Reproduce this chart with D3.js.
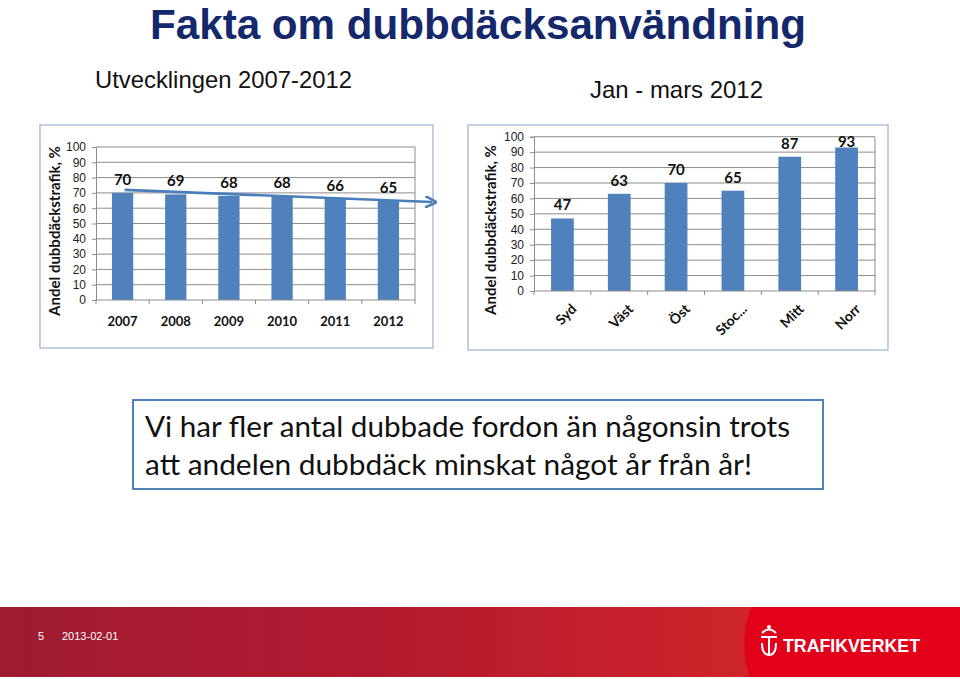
<!DOCTYPE html>
<html><head><meta charset="utf-8">
<script src="https://cdn.jsdelivr.net/npm/d3@7"></script>
<style>body{margin:0;background:#fff;}svg{display:block;}</style>
</head><body>
<script>
const years = ["2007","2008","2009","2010","2011","2012"];
const yearValues = [70,69,68,68,66,65];
const regions = ["Syd","Väst","Öst","Stoc...","Mitt","Norr"];
const regionValues = [47,63,70,65,87,93];
const yTicks = [0,10,20,30,40,50,60,70,80,90,100];

const W=960,H=679;
const svg=d3.select("body").append("svg").attr("width",W).attr("height",H);
const defs=svg.append("defs");
const BAR="#4f81bd", GRID="#8c8c8c", FRAME="#9bb0cf";
const calib="Lato, 'Open Sans', sans-serif";
const arial="'Liberation Sans', Arial, sans-serif";

// Title
svg.append("text").attr("x",150).attr("y",39)
 .attr("font-family",arial).attr("font-weight","bold").attr("font-size",42)
 .attr("fill","#14286b").attr("textLength",656).attr("lengthAdjust","spacingAndGlyphs").text("Fakta om dubbdäcksanvändning");
svg.append("text").attr("x",95).attr("y",88).attr("font-family",arial)
 .attr("font-size",24).attr("fill","#111").attr("textLength",257).attr("lengthAdjust","spacingAndGlyphs").text("Utvecklingen 2007-2012");
svg.append("text").attr("x",590).attr("y",98).attr("font-family",arial)
 .attr("font-size",24).attr("fill","#111").attr("textLength",173).attr("lengthAdjust","spacingAndGlyphs").text("Jan - mars 2012");

function chart(opt){
  const g=svg.append("g");
  g.append("rect").attr("x",opt.frame[0]).attr("y",opt.frame[1]).attr("width",opt.frame[2]-opt.frame[0])
   .attr("height",opt.frame[3]-opt.frame[1]).attr("fill","#fff").attr("stroke",FRAME).attr("stroke-width",1.2);
  const xb=d3.scaleBand().domain(opt.cats).range([opt.x0,opt.x1]);
  const y=d3.scaleLinear().domain([0,100]).range([opt.y0,opt.y1]);
  // grid
  g.selectAll(".gl").data(yTicks.filter(t=>t>0)).join("line")
   .attr("x1",opt.x0).attr("x2",opt.x1).attr("y1",d=>y(d)).attr("y2",d=>y(d))
   .attr("stroke",GRID).attr("stroke-width",1);
  g.append("line").attr("x1",opt.x1).attr("x2",opt.x1).attr("y1",opt.y0).attr("y2",opt.y1).attr("stroke",GRID);
  // y axis
  const ya=g.append("g").attr("transform",`translate(${opt.x0},0)`)
   .call(d3.axisLeft(y).tickValues(yTicks).tickSize(4).tickPadding(6));
  ya.select(".domain").attr("stroke",GRID);
  ya.selectAll(".tick line").attr("stroke",GRID);
  ya.selectAll(".tick text").attr("font-family",arial).attr("font-size",12).attr("fill","#222");
  // bars
  g.selectAll(".bar").data(opt.vals).join("rect")
   .attr("x",(d,i)=>xb(opt.cats[i])+(xb.bandwidth()-xb.bandwidth()*0.4)/2)
   .attr("width",xb.bandwidth()*0.4)
   .attr("y",d=>y(d)).attr("height",d=>y(0)-y(d)).attr("fill",BAR);
  // x axis
  g.append("line").attr("x1",opt.x0).attr("x2",opt.x1).attr("y1",y(0)).attr("y2",y(0)).attr("stroke",GRID);
  g.selectAll(".xt").data(d3.range(opt.cats.length+1)).join("line")
   .attr("x1",i=>opt.x0+i*xb.step()).attr("x2",i=>opt.x0+i*xb.step())
   .attr("y1",y(0)).attr("y2",y(0)+4).attr("stroke",GRID);
  // value labels
  g.selectAll(".vl").data(opt.vals).join("text")
   .attr("x",(d,i)=>xb(opt.cats[i])+xb.bandwidth()/2)
   .attr("y",d=>Math.max(y(d)-8, y(100)+10))
   .attr("text-anchor","middle").attr("font-family",calib).attr("font-weight","bold")
   .attr("font-size",15).attr("fill","#111").text(d=>d);
  // category labels
  if(opt.rotate){
    g.selectAll(".cl").data(opt.cats).join("text")
     .attr("transform",d=>`translate(${xb(d)+xb.bandwidth()/2+8},${y(0)+12}) rotate(-45)`)
     .attr("text-anchor","end").attr("dy","0.7em").attr("font-family",calib).attr("font-weight","bold")
     .attr("font-size",14).attr("fill","#111").text(d=>d);
  } else {
    g.selectAll(".cl").data(opt.cats).join("text")
     .attr("x",d=>xb(d)+xb.bandwidth()/2).attr("y",y(0)+26)
     .attr("text-anchor","middle").attr("font-family",calib).attr("font-weight","bold")
     .attr("font-size",13).attr("fill","#111").text(d=>d);
  }
  // y title
  g.append("text").attr("transform",`translate(${opt.tx},${opt.ty}) rotate(-90)`)
   .attr("text-anchor","middle").attr("dy","0.35em").attr("font-family",calib).attr("font-weight","bold")
   .attr("font-size",15).attr("fill","#111").text("Andel dubbdäckstrafik, %");
  return {x:xb,y};
}

const L=chart({frame:[40,125,433,348],cats:years,vals:yearValues,x0:96,x1:415,y0:300,y1:147,rotate:false,tx:55,ty:231});
const R=chart({frame:[468,125,888,350],cats:regions,vals:regionValues,x0:534,x1:875,y0:291,y1:136.7,rotate:true,tx:491,ty:230});

// trend arrow
defs.append("marker").attr("id","ah").attr("viewBox","0 0 10 10").attr("refX",6).attr("refY",5)
 .attr("markerWidth",4.5).attr("markerHeight",4.5).attr("orient","auto")
 .append("path").attr("d","M0,0 L10,5 L0,10 M0,0 L10,5").attr("fill","none").attr("stroke","#4a7ebb").attr("stroke-width",2.2).attr("stroke-linejoin","miter");
svg.append("line").attr("x1",L.x(years[0])+L.x.bandwidth()/2+2).attr("y1",L.y(yearValues[0])-3)
 .attr("x2",432).attr("y2",L.y(yearValues[5])+1.5)
 .attr("stroke","#4a7ebb").attr("stroke-width",2.6).attr("marker-end","url(#ah)");

// text box
svg.append("rect").attr("x",133).attr("y",400).attr("width",690).attr("height",89)
 .attr("fill","#fff").attr("stroke","#4f81bd").attr("stroke-width",2);
svg.append("text").attr("x",145).attr("y",437).attr("font-family",calib).attr("font-size",28).attr("fill","#111")
 .attr("textLength",645).attr("lengthAdjust","spacingAndGlyphs").text("Vi har fler antal dubbade fordon än någonsin trots");
svg.append("text").attr("x",145).attr("y",475).attr("font-family",calib).attr("font-size",28).attr("fill","#111")
 .attr("textLength",607).attr("lengthAdjust","spacingAndGlyphs").text("att andelen dubbdäck minskat något år från år!");

// footer
const gr=defs.append("linearGradient").attr("id","fg").attr("x1","0").attr("x2","1");
gr.append("stop").attr("offset","0").attr("stop-color","#9e1b32");
gr.append("stop").attr("offset","0.4").attr("stop-color","#b31a2f");
gr.append("stop").attr("offset","0.78").attr("stop-color","#d0242a");
gr.append("stop").attr("offset","1").attr("stop-color","#e0001a");
svg.append("rect").attr("x",0).attr("y",607).attr("width",W).attr("height",70).attr("fill","url(#fg)");
svg.append("path").attr("d","M752,607 C742,625 742,660 750,677 L960,677 L960,607 Z").attr("fill","#e2001a");
svg.append("text").attr("x",38).attr("y",640).attr("font-family",arial).attr("font-size",11).attr("fill","#fff").text("5");
svg.append("text").attr("x",62).attr("y",640).attr("font-family",arial).attr("font-size",11).attr("fill","#fff").text("2013-02-01");
// logo
const lg=svg.append("g").attr("fill","none").attr("stroke","#fff").attr("stroke-width",2);
lg.append("path").attr("d","M762,633 Q769,626 776,633");
lg.append("line").attr("x1",761).attr("x2",777).attr("y1",637).attr("y2",637);
lg.append("line").attr("x1",769).attr("x2",769).attr("y1",637).attr("y2",654);
lg.append("path").attr("d","M762,643 Q762,655 769,655 Q776,655 776,643");
svg.append("circle").attr("cx",769).attr("cy",627).attr("r",2).attr("fill","#fff");
svg.append("text").attr("x",783).attr("y",652).attr("font-family",arial).attr("font-weight","bold")
 .attr("font-size",19).attr("fill","#fff").attr("textLength",137).attr("lengthAdjust","spacingAndGlyphs").text("TRAFIKVERKET");
</script>
</body></html>
